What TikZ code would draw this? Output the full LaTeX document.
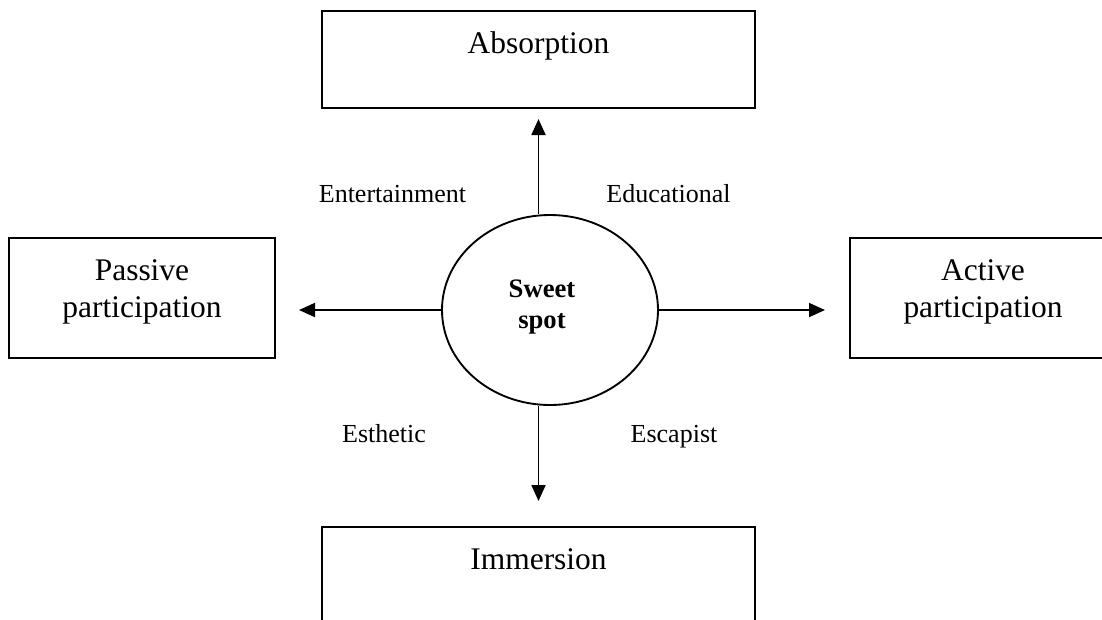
\documentclass[tikz,border=0pt]{standalone}
\usepackage{fontspec}
\setmainfont{Liberation Serif}
\usetikzlibrary{
  arrows.meta,
  positioning,
  shapes.geometric
}
\newcommand{\realmFont}{\fontsize{23.6pt}{27.75pt}\selectfont}
\newcommand{\spotFont}{\fontsize{20pt}{23.25pt}\selectfont\bfseries}
\newcommand{\labelFont}{\fontsize{19.5pt}{23pt}\selectfont}
\tikzset{
  realm/.style={
    draw,
    line width=1.5pt,
    rectangle,
    inner sep=0pt,
    align=center,
    font=\realmFont,
    text height=31.5pt
  },
  spot/.style={
    draw,
    line width=1.4pt,
    ellipse,
    inner sep=0pt,
    minimum width=162pt,
    minimum height=142.5pt
  },
  spottext/.style={
    font=\spotFont,
    align=center,
    xshift=-6pt,
    yshift=2pt
  },
  axislabel/.style={
    font=\labelFont,
    anchor=base
  }
}

\begin{document}
\begin{tikzpicture}[
    >={Triangle[length=12pt,width=10.5pt]},
    x=0.75pt, y=-0.75pt,
    line width=1.4pt
  ]
  \useasboundingbox (0,0) rectangle (1102,619);

  \node[spot, label={[spottext]center:Sweet\\spot}] (sweet) at (550,310) {};

  \node[realm, text width=324.75pt, text depth=41.25pt] (absorption) at (538.5,59.5) {Absorption};
  \node[realm, text width=324.75pt, text depth=41.25pt] (immersion)  at (538.5,575.5) {Immersion};
  \node[realm, text width=199.5pt, text depth=58.5pt] (passive) at (142,298) {Passive\\participation};
  \node[realm, text width=199.5pt, text depth=58.5pt] (active)  at (983,298) {Active\\participation};

  \node[axislabel] (entertainment) at (392.5,202) {Entertainment};
  \node[axislabel] (educational)   at (668.5,202) {Educational};
  \node[axislabel] (esthetic)      at (384,442)   {Esthetic};
  \node[axislabel] (escapist)      at (674,442)   {Escapist};

  \draw[->, shorten >=7.5pt]   (sweet.north -| absorption) -- (absorption.south);
  \draw[->, shorten >=18.75pt] (sweet.south -| immersion)  -- (immersion.north);
  \draw[->, shorten >=17.25pt] (sweet.west) -- (sweet.west -| passive.east);
  \draw[->, shorten >=18pt]    (sweet.east) -- (sweet.east -| active.west);
\end{tikzpicture}
\end{document}
